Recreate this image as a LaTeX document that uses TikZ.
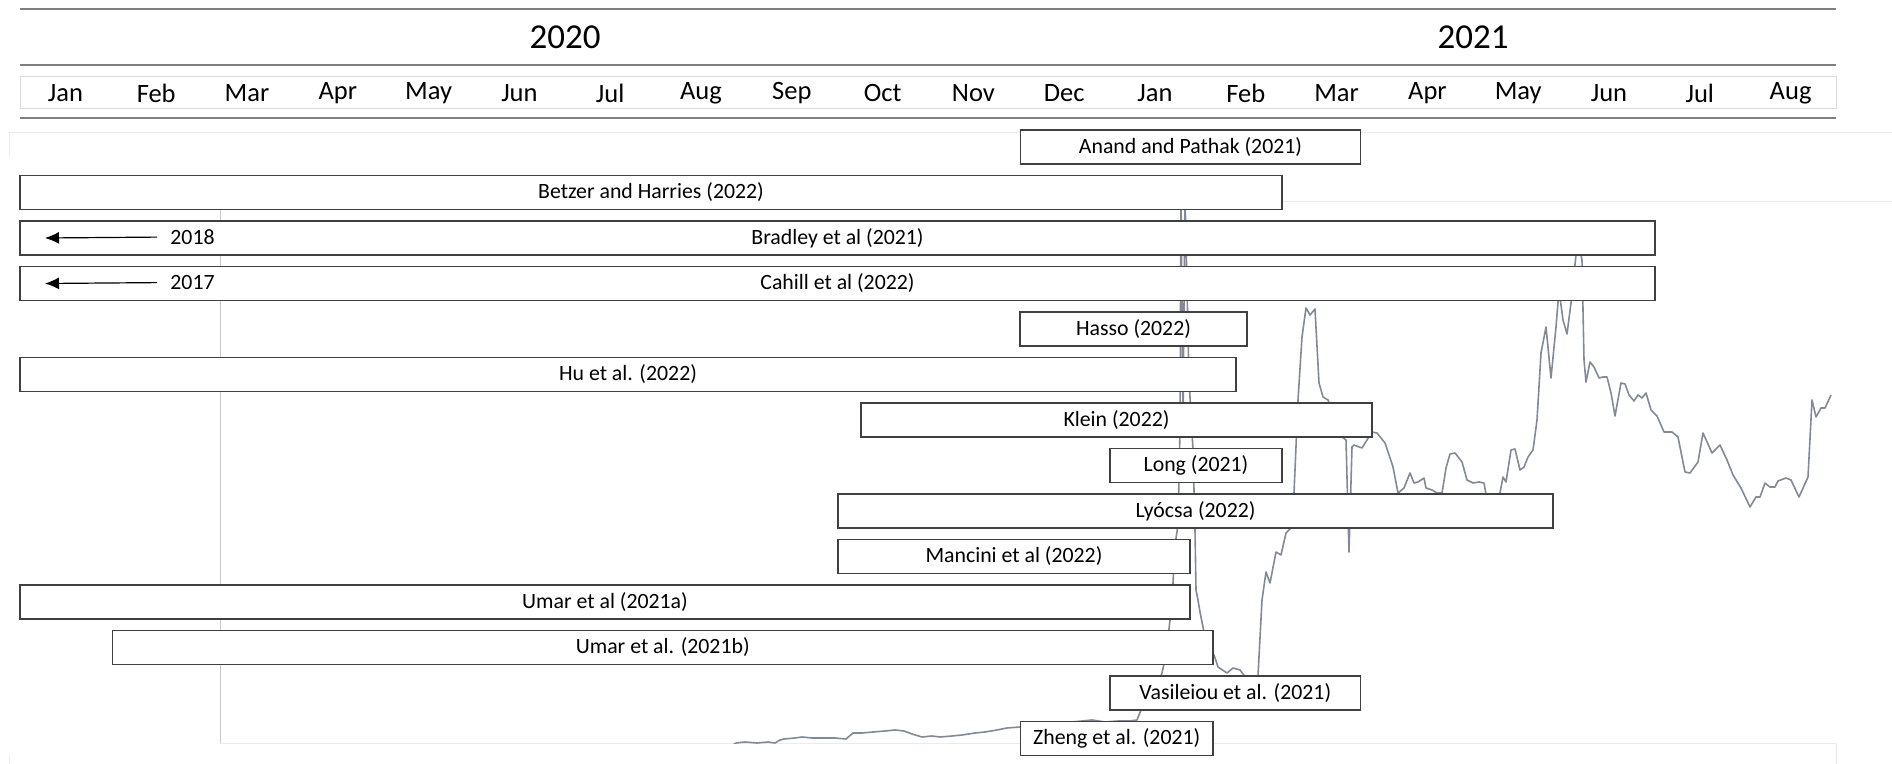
\documentclass[tikz,border=0pt]{standalone}
\usepackage{fontspec}
\setmainfont{Carlito}
\usetikzlibrary{arrows.meta}
\definecolor{headgray}{RGB}{127,127,127}
\definecolor{bandgray}{RGB}{217,217,217}
\definecolor{framegray}{RGB}{235,235,235}
\definecolor{gridgray}{RGB}{200,200,200}
\definecolor{pricegray}{RGB}{130,138,152}

\begin{document}
\begin{tikzpicture}[x=0.5pt,y=-0.5pt,
  study/.style={draw=black!75,line width=0.65pt,fill=white,minimum height=17pt,
    inner sep=0pt,outer sep=0pt,text=black,font=\fontsize{10.9pt}{12pt}\selectfont},
  monthlabel/.style={inner sep=0pt,text=black,font=\fontsize{13.25pt}{15pt}\selectfont},
  yearlabel/.style={inner sep=0pt,text=black,font=\fontsize{17.5pt}{20pt}\selectfont},
  pastlabel/.style={inner sep=0pt,text=black,font=\fontsize{10.9pt}{12pt}\selectfont},
  pastarrow/.style={-{Latex[length=7pt,width=6pt]},line width=0.6pt,shorten <=6.5pt},
  headline/.style={draw=headgray,line width=1pt},
  price/.style={draw=pricegray,line width=0.8pt,line join=round}]
  \tikzstyle{frame}=[draw=framegray,line width=0.5pt]

  \fill[white] (0,0) rectangle (1892,764);
  \useasboundingbox (0,0) rectangle (1892,764);

  % header: years and months
  \draw[headline] (20,9) -- (1836,9);
  \draw[headline] (20,65) -- (1836,65);
  \draw[headline] (20,118) -- (1836,118);
  \draw[draw=bandgray,line width=0.5pt] (20,77) rectangle (1836,109);
  \node[yearlabel] (y2020) at (565,37) {2020};
  \node[yearlabel] (y2021) at (1473,37) {2021};
  \foreach \mon [count=\i from 0] in {Jan,Feb,Mar,Apr,May,Jun,Jul,Aug,Sep,Oct,Nov,Dec,Jan,Feb,Mar,Apr,May,Jun,Jul,Aug}
    \node[monthlabel] (month\i) at ({65.4+90.8*\i},93) {\mon};

  % price chart behind the bars
  \draw[frame] (9,133) -- (1892,133);
  \draw[frame] (9,133) -- (9,157);
  \draw[frame] (220,202) -- (1892,202);
  \draw[draw=gridgray,line width=0.5pt] (220,202) -- (220,743);
  \draw[frame] (220,743) -- (1836,743) -- (1836,764);
  \draw[frame] (9,755) -- (9,764);
  \begin{scope}
    \clip (220,202) rectangle (1836,743);
    \draw[price] plot coordinates {(728,748) (736,743) (745,742) (757,743) (768,742) (775,743)
      (780,740) (784,739) (795,738) (802,737) (812,738) (820,738) (835,738) (846,739) (853,733)
      (862,733) (873,732) (885,731) (895,730) (904,731) (912,734) (922,737) (932,736) (940,737)
      (952,736) (962,735) (975,733) (985,732) (997,730) (1007,728) (1020,727) (1035,726)
      (1050,725) (1060,723) (1072,722) (1082,721) (1092,720) (1105,722) (1118,721) (1130,721)
      (1137,720) (1141,710) (1150,700) (1156,688) (1162,673) (1166,655) (1170,620) (1173,583)
      (1175,545) (1178,525) (1180,430) (1181,195) (1183,420) (1185,195) (1189,380) (1193,450)
      (1195,530) (1196,590) (1198,600) (1200,612) (1204,632) (1209,648) (1214,655) (1218,667)
      (1227,673) (1233,668) (1240,670) (1246,678) (1250,690) (1254,688) (1258,676) (1262,600)
      (1266,572) (1270,583) (1276,552) (1281,555) (1286,533) (1291,528) (1294,493) (1298,400)
      (1302,337) (1306,308) (1310,315) (1315,309) (1319,383) (1323,397) (1328,400) (1335,420)
      (1342,437) (1346,440) (1349,552) (1352,447) (1354,445) (1362,448) (1372,432) (1377,433)
      (1385,443) (1393,467) (1398,493) (1404,488) (1410,473) (1414,483) (1418,482) (1424,478)
      (1426,488) (1432,490) (1437,493) (1442,493) (1446,468) (1450,454) (1455,453) (1462,462)
      (1467,480) (1473,483) (1479,482) (1484,483) (1487,500) (1493,505) (1500,493) (1503,477)
      (1506,482) (1511,450) (1515,449) (1520,470) (1524,467) (1528,457) (1533,450) (1537,420)
      (1541,353) (1546,327) (1551,378) (1556,327) (1559,290) (1563,320) (1567,334) (1571,303)
      (1576,255) (1579,245) (1582,260) (1584,360) (1586,382) (1590,362) (1594,367) (1599,378)
      (1603,377) (1607,377) (1611,393) (1615,416) (1621,383) (1625,384) (1629,395) (1634,401)
      (1638,395) (1642,398) (1646,393) (1651,410) (1657,416) (1664,432) (1672,432) (1678,437)
      (1685,472) (1690,473) (1698,462) (1703,433) (1712,453) (1720,445) (1727,460) (1733,475)
      (1741,488) (1750,507) (1756,497) (1760,497) (1765,483) (1770,487) (1775,487) (1778,481)
      (1786,478) (1791,480) (1799,497) (1808,477) (1812,400) (1816,417) (1821,408) (1825,408)
      (1831,395)};
  \end{scope}

  % study periods
  \node[study,minimum width=170pt] (anand) at (1190.5,147) {Anand and Pathak (2021)};
  \node[study,minimum width=631pt] (betzer) at (651,192.5) {Betzer and Harries (2022)};
  \node[study,minimum width=817.5pt] (bradley) at (837.5,238) {Bradley et al (2021)};
  \node[study,minimum width=817.5pt] (cahill) at (837.5,283.5) {Cahill et al (2022)};
  \node[study,minimum width=113.5pt] (hasso) at (1133.5,329) {Hasso (2022)};
  \node[study,minimum width=608pt] (hu) at (628,374.5) {Hu et al. (2022)};
  \node[study,minimum width=255.5pt] (klein) at (1116.5,420) {Klein (2022)};
  \node[study,minimum width=86pt] (long) at (1196,465.5) {Long (2021)};
  \node[study,minimum width=357.5pt] (lyocsa) at (1195.5,511) {Lyócsa (2022)};
  \node[study,minimum width=176pt] (mancini) at (1014,556.5) {Mancini et al (2022)};
  \node[study,minimum width=585pt] (umara) at (605,602) {Umar et al (2021a)};
  \node[study,minimum width=550.25pt] (umarb) at (662.75,647.5) {Umar et al. (2021b)};
  \node[study,minimum width=125.3pt] (vasileiou) at (1235.3,693) {Vasileiou et al. (2021)};
  \node[study,minimum width=96.25pt] (zheng) at (1116.75,738.5) {Zheng et al. (2021)};

  % earlier starts
  \node[pastlabel] (y2018) at (192.5,237) {2018};
  \coordinate (past2018) at (45,238);
  \draw[pastarrow] (y2018.west) -- (past2018);
  \node[pastlabel] (y2017) at (192.5,282.5) {2017};
  \coordinate (past2017) at (45,283.5);
  \draw[pastarrow] (y2017.west) -- (past2017);
\end{tikzpicture}
\end{document}
